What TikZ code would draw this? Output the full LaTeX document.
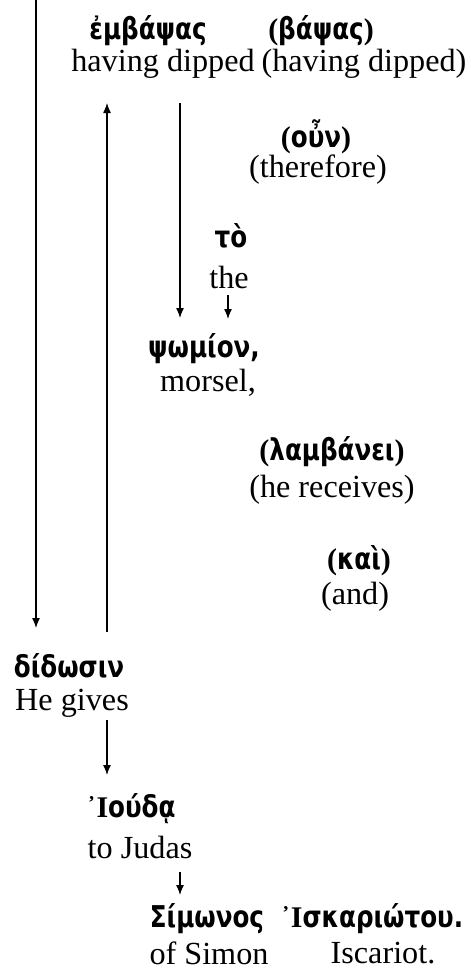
\documentclass[tikz,border=0pt]{standalone}
\usepackage{fontspec}
\setmainfont{Liberation Serif}
\newfontfamily\grk[FakeStretch=0.82]{DejaVu Sans}
\usetikzlibrary{arrows.meta}
\begin{document}
\begin{tikzpicture}[
		x=0.5pt,
		y=-0.5pt,
		greek/.style={
				inner sep=0pt,
				font=\fontsize{15}{17}\selectfont\bfseries\grk
			},
		gloss/.style={
				inner sep=0pt,
				font=\fontsize{16.1}{19}\selectfont
			},
		link/.style={
				draw,
				line width=0.65pt,
				-{Latex[length=5pt,width=4pt]}
			},
	]
	\useasboundingbox (0,0) rectangle (471,969);
	\node [greek] (1) at (148,31) {ἐμβάψας};
	\node [greek] (2) at (321,31) {{\rmfamily(}βάψας{\rmfamily)}};
	\node [gloss] (3) at (163,64) {having dipped};
	\node [gloss] (4) at (364,64) {(having dipped)};
	\node [greek] (5) at (316,137) {{\rmfamily(}οὖν{\rmfamily)}};
	\node [gloss] (6) at (318,170) {(therefore)};
	\node [greek] (7) at (231,236) {τὸ};
	\node [gloss] (8) at (229,277) {the};
	\node [greek] (9) at (204,349) {ψωμίον,};
	\node [gloss] (10) at (208,383) {morsel,};
	\node [greek] (11) at (332,452) {{\rmfamily(}λαμβάνει{\rmfamily)}};
	\node [gloss] (12) at (332,490) {(he receives)};
	\node [greek] (13) at (359,561) {{\rmfamily(}καὶ{\rmfamily)}};
	\node [gloss] (14) at (355,597) {(and)};
	\node [greek] (15) at (69,666) {δίδωσιν};
	\node [gloss] (16) at (72,703) {He gives};
	\node [greek] (17) at (131,809) {{\rmfamily ᾿Ι}ούδᾳ};
	\node [gloss] (18) at (140,847) {to Judas};
	\node [greek] (19) at (207,919) {Σίμωνος};
	\node [greek] (20) at (372,919) {{\rmfamily ᾿Ι}σκαριώτου.};
	\node [gloss] (21) at (209,953) {of Simon};
	\node [gloss] (22) at (383,953) {Iscariot.};
	\coordinate (23) at (36,0);
	\coordinate (24) at (36,628);
	\coordinate (25) at (107,632);
	\coordinate (26) at (107,103);
	\coordinate (27) at (180,103);
	\coordinate (28) at (180,318);
	\coordinate (29) at (228,295);
	\coordinate (30) at (228,319);
	\coordinate (31) at (107,720);
	\coordinate (32) at (107,775);
	\coordinate (33) at (180,872);
	\coordinate (34) at (180,895);
	\draw [link] (23) -- (24);
	\draw [link] (25) -- (26);
	\draw [link] (27) -- (28);
	\draw [link] (29) -- (30);
	\draw [link] (31) -- (32);
	\draw [link] (33) -- (34);
\end{tikzpicture}
\end{document}
